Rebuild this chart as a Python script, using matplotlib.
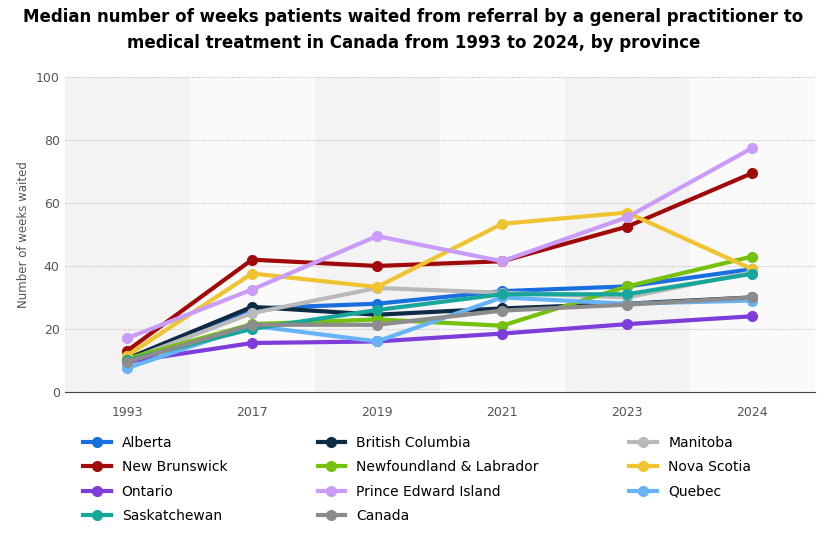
import numpy as np
import matplotlib.pyplot as plt

years = ["1993", "2017", "2019", "2021", "2023", "2024"]
alberta = [10, 26.5, 28, 32, 33.5, 39]
british_columbia = [10.5, 27, 24.5, 26.5, 28, 30]
manitoba = [10, 25, 33, 31.5, 30, 38]
new_brunswick = [13, 42, 40, 41.5, 52.5, 69.5]
newfoundland = [10.5, 21.5, 23, 21, 33.5, 43]
nova_scotia = [11.5, 37.6, 33.3, 53.4, 57, 39]
ontario = [9.5, 15.5, 16, 18.5, 21.5, 24]
pei = [17, 32.5, 49.5, 41.5, 55.5, 77.5]
quebec = [7.5, 21, 16, 30, 28, 29]
saskatchewan = [10, 20, 26, 31, 31, 37.5]
canada = [9.5, 21.3, 21.3, 25.8, 27.7, 30]

series = [
    ("Alberta", alberta, "#1a6fdf"),
    ("British Columbia", british_columbia, "#0f2a44"),
    ("Manitoba", manitoba, "#b9b9b9"),
    ("New Brunswick", new_brunswick, "#a10a0a"),
    ("Newfoundland & Labrador", newfoundland, "#76c10b"),
    ("Nova Scotia", nova_scotia, "#f0c330"),
    ("Ontario", ontario, "#7e3ddb"),
    ("Prince Edward Island", pei, "#c89cf8"),
    ("Quebec", quebec, "#66b3f7"),
    ("Saskatchewan", saskatchewan, "#17a79a"),
    ("Canada", canada, "#8c8c8c"),
]

fig = plt.figure(figsize=(8.27, 5.33), dpi=100)
ax = fig.add_axes([0.078, 0.265, 0.907, 0.59])
x = np.arange(len(years))
for i in range(len(years)):
    ax.axvspan(i - 0.5, i + 0.5, color="#f3f3f3" if i % 2 == 0 else "#fafafa", zorder=0, lw=0)

for name, vals, col in series:
    ax.plot(x, vals, color=col, lw=3, marker="o", ms=7, label=name, zorder=3)

ax.set_xlim(-0.5, len(years) - 0.5)
ax.set_ylim(0, 100)
ax.set_yticks(range(0, 101, 20))
ax.set_xticks(x, years)
ax.grid(axis="y", color="#c8c8c8", ls=(0, (1, 1)), lw=0.8)
ax.set_axisbelow(True)
for s in ["top", "right", "left"]:
    ax.spines[s].set_visible(False)
ax.spines["bottom"].set_color("#444444")
ax.tick_params(length=0, colors="#555555", labelsize=9)
ax.tick_params(axis="x", pad=10)
ax.set_ylabel("Number of weeks waited", fontsize=8.5, color="#555555")

fig.suptitle("Median number of weeks patients waited from referral by a general practitioner to\n"
             "medical treatment in Canada from 1993 to 2024, by province",
             fontsize=12, fontweight="bold", y=0.985, linespacing=1.6)

# legend filled row by row, 3 per row
handles, labels = ax.get_legend_handles_labels()
ncol = 3
nrow = int(np.ceil(len(handles) / ncol))
order = [r * ncol + c for c in range(ncol) for r in range(nrow) if r * ncol + c < len(handles)]
fig.legend([handles[i] for i in order], [labels[i] for i in order],
           loc="lower left", bbox_to_anchor=(0.085, -0.005), ncol=ncol,
           frameon=False, fontsize=10, columnspacing=6.5, handlelength=2, labelspacing=0.75)
fig.savefig("out.png")
